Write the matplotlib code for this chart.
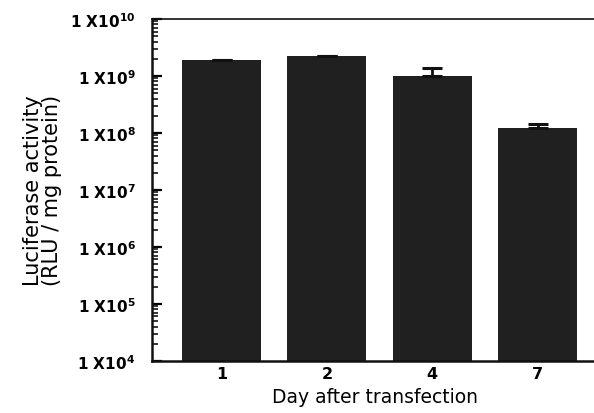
import matplotlib
matplotlib.use("Agg")
import matplotlib.pyplot as plt
from matplotlib.ticker import FixedLocator, LogLocator, NullFormatter
import numpy as np

# luciferase expression after transfection
days = ["1", "2", "4", "7"]
activity = [1.9e9, 2.2e9, 1.0e9, 1.2e8]
err_up = [0.0, 0.05e9, 0.35e9, 0.25e8]

decades = [1e4, 1e5, 1e6, 1e7, 1e8, 1e9, 1e10]
decade_labels = ["1 X10$^{4}$", "1 X10$^{5}$", "1 X10$^{6}$", "1 X10$^{7}$",
                 "1 X10$^{8}$", "1 X10$^{9}$", "1 X10$^{10}$"]

plt.rcParams["font.family"] = ["DejaVu Sans"]
plt.rcParams["mathtext.default"] = "regular"

fig = plt.figure(figsize=(5.94, 4.14), dpi=100)
ax = fig.add_axes([0.256, 0.126, 0.75, 0.826])

x = np.arange(len(days))
ax.bar(x, activity, width=0.75, color="#202020", zorder=2)
ax.errorbar(x, activity, yerr=[np.zeros(len(days)), err_up], fmt="none",
            ecolor="#111111", elinewidth=2, capsize=7, capthick=2.2, zorder=3)

ax.set_yscale("log")
ax.set_ylim(1e4, 1e10)
ax.set_xlim(-0.66, 3.57)

ax.yaxis.set_major_locator(FixedLocator(decades))
ax.set_yticklabels(decade_labels, fontweight="bold")
ax.yaxis.set_minor_locator(LogLocator(base=10, subs=np.arange(2, 10)))
ax.yaxis.set_minor_formatter(NullFormatter())
ax.tick_params(axis="y", which="major", direction="in", length=7, width=1.6,
               pad=12, labelsize=11)
ax.tick_params(axis="y", which="minor", direction="in", length=4, width=1.1)

ax.set_xticks(x)
ax.set_xticklabels(days, fontweight="bold")
ax.tick_params(axis="x", length=0, pad=4, labelsize=11.5)

ax.spines["right"].set_visible(False)
ax.spines["left"].set_linewidth(1.8)
ax.spines["bottom"].set_linewidth(1.8)
ax.spines["top"].set_linewidth(1.2)
for side in ("left", "bottom", "top"):
    ax.spines[side].set_color("#111111")

ax.set_xlabel("Day after transfection", fontsize=13.5, labelpad=4)
ax.set_ylabel("Luciferase activity\n(RLU / mg protein)", fontsize=15,
              labelpad=6, linespacing=0.9)

fig.savefig("out.png", dpi=100)
